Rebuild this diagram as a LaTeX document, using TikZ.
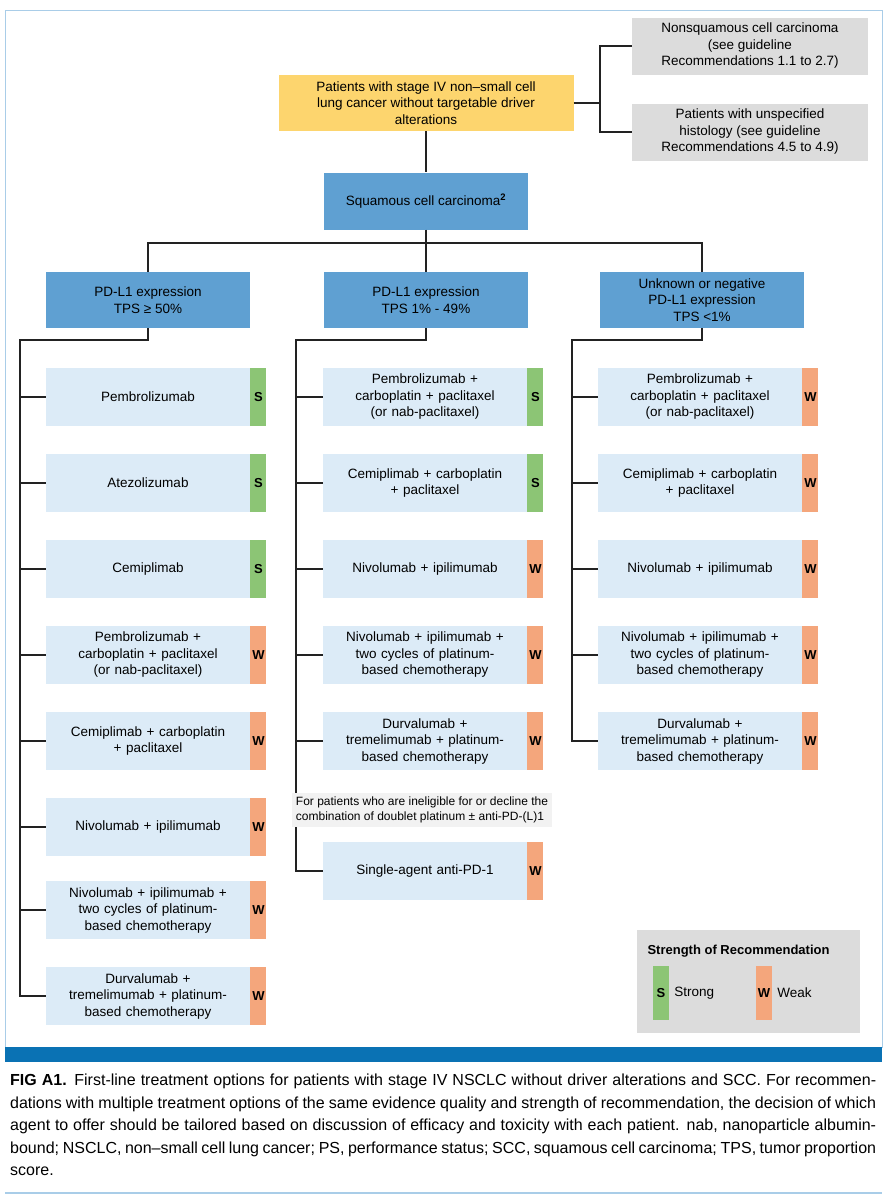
\documentclass[tikz,border=0pt]{standalone}
\usepackage{fontspec}
\setmainfont{Liberation Sans}
\usetikzlibrary{positioning}
\definecolor{topyel}{HTML}{FDD56E}
\definecolor{sidegry}{HTML}{DCDCDC}
\definecolor{catblue}{HTML}{5FA0D2}
\definecolor{itemblue}{HTML}{DCEBF7}
\definecolor{sgreen}{HTML}{8CC575}
\definecolor{worange}{HTML}{F4A67C}
\definecolor{framebl}{HTML}{A9CDE8}
\definecolor{barbl}{HTML}{0A72B4}
\definecolor{linegry}{HTML}{222222}
\tikzset{
  box/.style={inner sep=2pt, align=center, font=\fontsize{13.5}{16.5}\selectfont},
  item/.style={box, fill=itemblue, minimum width=204pt, minimum height=58pt, text width=196pt},
  cat/.style={box, fill=catblue, minimum width=204pt, minimum height=56pt},
  badge/.style={fill=#1, minimum width=16pt, minimum height=58pt, inner sep=0pt, font=\fontsize{13}{15}\selectfont\bfseries},
  link/.style={draw=linegry, line width=1.5pt}
}
\begin{document}
\begin{tikzpicture}[x=1pt,y=-1pt]
  \useasboundingbox (0,0) rectangle (888,1200);
  % frame and bar
  \draw[framebl, line width=1pt] (5,10) rectangle (882,1047);
  \fill[barbl] (5,1047) rectangle (882,1062);
  \draw[framebl, line width=1.5pt] (5,1193) -- (882,1193);

  % top level
  \node[box, fill=topyel, minimum width=295pt, minimum height=56pt] (top) at (426,103)
    {Patients with stage IV non--small cell\\lung cancer without targetable driver\\alterations};
  \node[box, fill=sidegry, minimum width=236pt, minimum height=57pt] (nonsq) at (750,46)
    {Nonsquamous cell carcinoma\\(see guideline\\Recommendations 1.1 to 2.7)};
  \node[box, fill=sidegry, minimum width=236pt, minimum height=57pt] (unspec) at (750,132)
    {Patients with unspecified\\histology (see guideline\\Recommendations 4.5 to 4.9)};
  \coordinate (fork) at (600,103);
  \draw[link] (top.east) -- (fork);
  \draw[link] (nonsq.west) -| (fork) |- (unspec.west);

  \node[cat, minimum height=57pt] (squam) at (426,201) {Squamous cell carcinoma\textsuperscript{\textbf{2}}};
  \draw[link] (top.south) -- (squam.north);

  % PD-L1 groups
  \node[cat] (lcat) at (148,300) {PD-L1 expression\\TPS ≥ 50\%};
  \node[cat] (mcat) at (426,300) {PD-L1 expression\\TPS 1\% - 49\%};
  \node[cat] (rcat) at (702,300) {Unknown or negative\\PD-L1 expression\\TPS <1\%};
  \coordinate (bus) at (426,243);
  \draw[link] (squam.south) -- (mcat.north);
  \draw[link] (lcat.north) |- (bus) -| (rcat.north);

  % left column
  \foreach \n/\y/\t/\c/\s in {
    1/397/Pembrolizumab/sgreen/S,
    2/483/Atezolizumab/sgreen/S,
    3/569/Cemiplimab/sgreen/S,
    4/655/{Pembrolizumab +\\carboplatin + paclitaxel\\(or nab-paclitaxel)}/worange/W,
    5/741/{Cemiplimab + carboplatin\\+ paclitaxel}/worange/W,
    6/827/{Nivolumab + ipilimumab}/worange/W,
    7/910/{Nivolumab + ipilimumab +\\two cycles of platinum-\\based chemotherapy}/worange/W,
    8/996/{Durvalumab +\\tremelimumab + platinum-\\based chemotherapy}/worange/W} {
    \node[item] (l\n) at (148,\y) {\t};
    \node[badge=\c, right=0pt of l\n] (l\n b) {\s};
  }
  \coordinate (lturn) at (20,340);
  \draw[link] (lcat.south) |- (lturn) |- (l8.west);
  \foreach \n in {1,...,7} \draw[link] (l\n.west) -- (l\n.west -| lturn);

  % middle column
  \foreach \n/\y/\t/\c/\s in {
    1/397/{Pembrolizumab +\\carboplatin + paclitaxel\\(or nab-paclitaxel)}/sgreen/S,
    2/483/{Cemiplimab + carboplatin\\+ paclitaxel}/sgreen/S,
    3/569/{Nivolumab + ipilimumab}/worange/W,
    4/655/{Nivolumab + ipilimumab +\\two cycles of platinum-\\based chemotherapy}/worange/W,
    5/741/{Durvalumab +\\tremelimumab + platinum-\\based chemotherapy}/worange/W,
    6/871/{Single-agent anti-PD-1}/worange/W} {
    \node[item] (m\n) at (425,\y) {\t};
    \node[badge=\c, right=0pt of m\n] (m\n b) {\s};
  }
  \coordinate (mturn) at (296,340);
  \draw[link] (mcat.south) |- (mturn) |- (m6.west);
  \foreach \n in {1,...,5} \draw[link] (m\n.west) -- (m\n.west -| mturn);
  \node[fill=black!5, inner sep=4pt, align=left, font=\fontsize{12}{15}\selectfont] (note) at (422,810)
    {For patients who are ineligible for or decline the\\combination of doublet platinum ± anti-PD-(L)1};

  % right column
  \foreach \n/\y/\t/\c/\s in {
    1/397/{Pembrolizumab +\\carboplatin + paclitaxel\\(or nab-paclitaxel)}/worange/W,
    2/483/{Cemiplimab + carboplatin\\+ paclitaxel}/worange/W,
    3/569/{Nivolumab + ipilimumab}/worange/W,
    4/655/{Nivolumab + ipilimumab +\\two cycles of platinum-\\based chemotherapy}/worange/W,
    5/741/{Durvalumab +\\tremelimumab + platinum-\\based chemotherapy}/worange/W} {
    \node[item] (r\n) at (700,\y) {\t};
    \node[badge=\c, right=0pt of r\n] (r\n b) {\s};
  }
  \coordinate (rturn) at (572,340);
  \draw[link] (rcat.south) |- (rturn) |- (r5.west);
  \foreach \n in {1,...,4} \draw[link] (r\n.west) -- (r\n.west -| rturn);

  % legend
  \node[fill=sidegry, minimum width=223pt, minimum height=103pt] (legend) at (748.5,981.5) {};
  \node[font=\fontsize{13}{15}\selectfont\bfseries, anchor=west] (legtitle) at (644,951) {Strength of Recommendation};
  \node[badge=sgreen, minimum height=54pt] (legs) at (661,993) {S};
  \node[box, anchor=west, right=3pt of legs] (legstrong) {Strong};
  \node[badge=worange, minimum height=54pt] (legw) at (764,993) {W};
  \node[box, anchor=west, right=3pt of legw] (legweak) {Weak};

  % caption
  \node[anchor=north west, text width=866pt, align=justify, inner sep=0pt,
    font=\fontsize{16}{22.5}\selectfont] (caption) at (10,1074)
    {\textbf{FIG A1.} First-line treatment options for patients with stage IV NSCLC without driver alterations and SCC. For recommendations with multiple treatment options of the same evidence quality and strength of recommendation, the decision of which agent to offer should be tailored based on discussion of efficacy and toxicity with each patient. nab, nanoparticle albumin-bound; NSCLC, non--small cell lung cancer; PS, performance status; SCC, squamous cell carcinoma; TPS, tumor proportion score.};
\end{tikzpicture}
\end{document}
